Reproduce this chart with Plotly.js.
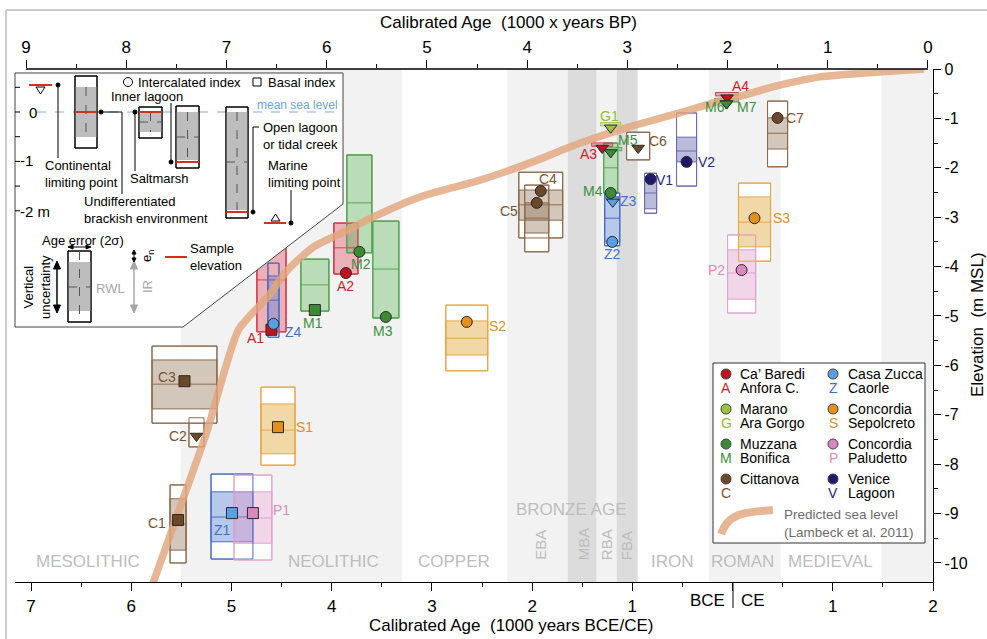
<!DOCTYPE html>
<html><head><meta charset="utf-8">
<script src="https://cdn.plot.ly/plotly-3.0.1.min.js"></script>
<style>html,body{margin:0;padding:0;background:#fff}</style>
</head><body><div id="chart" style="width:987px;height:639px"></div>
<script>
// ---------------- DATA ----------------
const sampleLabel = ['C1','C2','C3','S1','Z1','P1','A1','Z4','M1','A2','M2','M3','S2','C4','C5','M4','Z2','Z3','G1','A3','M5','C6','V1','V2','A4','M6','M7','C7','S3','P2'];
const siteCode    = ['C','C','C','S','Z','P','A','Z','M','A','M','M','S','C','C','M','Z','Z','G','A','M','C','V','V','A','M','M','C','S','P'];
const indexType   = ['basal','limiting','basal','basal','basal','basal','basal','intercalated','basal','intercalated','intercalated','intercalated','intercalated','intercalated','intercalated','intercalated','intercalated','limiting','limiting','limiting','limiting','limiting','intercalated','intercalated','limiting','limiting','limiting','intercalated','intercalated','intercalated'];
// age in 1000 years CE (negative = BCE)
const ageKaCE  = [-5.533,-5.349,-5.469,-4.536,-4.995,-4.786,-4.601,-4.581,-4.168,-3.858,-3.724,-3.460,-2.652,-1.914,-1.954,-1.216,-1.201,-1.196,-1.216,-1.301,-1.216,-0.942,-0.818,-0.459,-0.055,-0.060,-0.060,0.449,0.219,0.090];
const ageErr   = [0.080,0.075,0.324,0.170,0.209,0.189,0.145,0.055,0.140,0.120,0.125,0.130,0.209,0.219,0.120,0.070,0.075,0.060,0.100,0.105,0.110,0.115,0.060,0.100,0.115,0.120,0.120,0.100,0.160,0.140];
// elevations in m MSL
const boxTop    = [-8.42,-7.06,-5.61,-6.44,-8.20,-8.22,-3.22,-3.93,-3.85,-3.12,-1.74,-3.08,-4.78,-2.09,-2.35,-1.50,-2.51,null,null,null,null,-1.28,-2.11,-0.89,null,null,null,-0.65,-2.31,-3.36];
const boxBottom = [-10.00,-7.65,-7.17,-8.02,-9.92,-9.94,-5.32,-5.43,-4.90,-4.15,-3.72,-5.04,-6.11,-3.42,-3.70,-2.51,-3.58,null,null,null,null,-1.84,-2.92,-2.37,null,null,null,-1.98,-3.89,-4.94];
const fillTop   = [-8.70,null,-5.89,-6.78,-8.56,-8.56,-3.22,-4.19,-3.85,-3.12,-1.74,-3.08,-5.10,-2.45,-2.71,-1.50,-2.59,null,null,null,null,null,-2.19,-1.38,null,null,null,-0.99,-2.59,-3.66];
const fillBottom= [-9.74,null,-6.88,-7.79,-9.57,-9.60,-5.32,-5.16,-4.90,-4.15,-3.72,-5.04,-5.79,-3.06,-3.32,-2.51,-3.50,null,null,null,null,null,-2.83,-1.88,null,null,null,-1.62,-3.60,-4.66];
const rslMid    = [-9.21,null,-6.38,-7.31,-9.07,-9.09,-4.27,-4.68,-4.37,-3.62,-2.71,-4.05,-5.45,-2.75,-3.02,-2.00,-3.02,null,null,null,null,null,-2.51,-1.66,null,null,null,-1.30,-3.10,-4.13];
const sampleElev= [-9.13,-7.43,-6.32,-7.25,-8.99,-8.99,-5.28,-5.16,-4.88,-4.13,-3.70,-5.02,-5.12,-2.47,-2.71,-2.51,-3.50,-2.62,-1.12,-1.53,-1.62,-1.60,-2.23,-1.88,-0.51,-0.63,-0.63,-0.99,-3.02,-4.07];

// predicted sea level (Lambeck et al. 2011)
const slAge  = [-5.82,-5.76,-5.50,-5.24,-4.93,-4.64,-4.44,-4.18,-3.84,-3.59,-3.12,-2.52,-2.02,-1.52,-1.03,-0.53,-0.20,0.12,0.40,0.87,1.46,1.91];
const slElev = [-10.6,-10.28,-8.80,-7.31,-5.28,-4.62,-4.07,-3.60,-3.26,-3.00,-2.59,-2.25,-1.90,-1.50,-1.17,-0.89,-0.69,-0.53,-0.36,-0.16,-0.06,0.0];

// cultural periods
const bandStart = [-5.51,-2.25,-1.645,-1.356,-1.157,-0.239,1.486];
const bandEnd   = [-3.30,-1.645,-1.356,-1.157,-0.947,0.479,2.0];
const bandDark  = [false,false,true,false,true,false,false];
const periodLabel  = ['MESOLITHIC','NEOLITHIC','COPPER','EBA','MBA','RBA','FBA','IRON','ROMAN','MEDIEVAL'];
const periodCenter = [-6.43,-3.978,-2.78,-1.924,-1.486,-1.256,-1.057,-0.598,0.10,0.977];
const periodVertical = [false,false,false,true,true,true,true,false,false,false];

// axis ticks
const bceTickVals = [-7,-6,-5,-4,-3,-2,-1,0,1,2];
const bceTickText = ['7','6','5','4','3','2','1',' ','1','2'];
const bpTickVals  = [0,1,2,3,4,5,6,7,8,9];
const elevTickVals= [0,-1,-2,-3,-4,-5,-6,-7,-8,-9,-10];
const elevTickText= ['0','-1','-2','-3','-4','-5','-6','-7','-8','-9','-10'];

// legend
const legendCol1Site = ['A','G','M','C'], legendCol1Name = ['Ca’ Baredi','Marano','Muzzana','Cittanova'], legendCol1Sub = ['Anfora C.','Ara Gorgo','Bonifica',''];
const legendCol2Site = ['Z','S','P','V'], legendCol2Name = ['Casa Zucca','Concordia','Concordia','Venice'],    legendCol2Sub = ['Caorle','Sepolcreto','Paludetto','Lagoon'];

// ---------------- STYLE ----------------
const FONT = 'Liberation Sans, Arial, Helvetica, sans-serif';
const siteStyle = {
 A:{mk:'#c1121f', ln:'#d4434f', fill:'rgba(210,70,85,0.42)',  tx:'#d0202c'},
 G:{mk:'#9cc43a', ln:'#a2c94a', fill:'rgba(185,215,110,0.45)',tx:'#8fbe2e'},
 M:{mk:'#3b8b36', ln:'#5aa657', fill:'rgba(105,178,100,0.45)',tx:'#3a913a'},
 C:{mk:'#6a4828', ln:'#8c6a4b', fill:'rgba(145,115,85,0.40)', tx:'#7a5230'},
 Z:{mk:'#5b9fe3', ln:'#4a6cc4', fill:'rgba(95,135,210,0.45)', tx:'#3f6fd1'},
 S:{mk:'#e3901f', ln:'#e8a548', fill:'rgba(228,180,80,0.50)', tx:'#e38e22'},
 P:{mk:'#da88c0', ln:'#e2a2cf', fill:'rgba(222,155,202,0.42)',tx:'#d98cbc'},
 V:{mk:'#1d1a6b', ln:'#6c6ab0', fill:'rgba(105,105,175,0.45)',tx:'#272680'}
};
const SL_COLOR = 'rgba(226,166,124,0.82)';
// label offsets in pixels (dx right, dy down) relative to marker
const labelOffset = {C1:[-21,3],C2:[-19,0],C3:[-17,-4],S1:[27,0],Z1:[-9,17],P1:[29,-3],A1:[-16,8],Z4:[20,8],M1:[-2,13],A2:[0,13],M2:[2,12],M3:[-3,14],S2:[31,4],C4:[7,-12],C5:[-28,8],M4:[-18,-2],Z2:[0,12],Z3:[16,-1],G1:[-1,-12],A3:[-14,6],M5:[17,-12],C6:[20,-7],V1:[14,1],V2:[20,0],A4:[13,-12],M6:[-12,3],M7:[20,3],C7:[17,0],S3:[27,0],P2:[-25,0]};

const W=987,H=639,ML=15,MR=54,MT=69,MB=57,PW=W-ML-MR,PH=H-MT-MB;
const px = v => (v-ML)/PW;
const py = v => (H-MB-v)/PH;

const shapes = [], annotations = [];

// bands
bandStart.forEach((s,i)=>shapes.push({type:'rect',xref:'x',yref:'paper',x0:s,x1:bandEnd[i],y0:0,y1:1,fillcolor:bandDark[i]?'#dcdcdc':'#f2f2f2',line:{width:0},layer:'below'}));

// sample markers y (triangles hang below bars)
const markerY = sampleElev.map((e,i)=> (indexType[i]==='limiting' && boxTop[i]===null) ? e-0.07 : e);

// outer boxes
sampleLabel.forEach((l,i)=>{ if(boxTop[i]!==null){ const st=siteStyle[siteCode[i]];
  shapes.push({type:'rect',xref:'x',yref:'y',x0:ageKaCE[i]-ageErr[i],x1:ageKaCE[i]+ageErr[i],y0:boxBottom[i],y1:boxTop[i],fillcolor:'#ffffff',line:{color:st.ln,width:1},layer:'below'});}});
// fills
sampleLabel.forEach((l,i)=>{ if(fillTop[i]!==null){ const st=siteStyle[siteCode[i]];
  shapes.push({type:'rect',xref:'x',yref:'y',x0:ageKaCE[i]-ageErr[i],x1:ageKaCE[i]+ageErr[i],y0:fillBottom[i],y1:fillTop[i],fillcolor:st.fill,line:{color:st.ln,width:1},layer:'below'});}});
// outlines again + mid lines + limiting bars
sampleLabel.forEach((l,i)=>{ const st=siteStyle[siteCode[i]];
  if(boxTop[i]!==null) shapes.push({type:'rect',xref:'x',yref:'y',x0:ageKaCE[i]-ageErr[i],x1:ageKaCE[i]+ageErr[i],y0:boxBottom[i],y1:boxTop[i],fillcolor:'rgba(0,0,0,0)',line:{color:st.ln,width:1},layer:'below'});
  if(rslMid[i]!==null) shapes.push({type:'line',xref:'x',yref:'y',x0:ageKaCE[i]-ageErr[i],x1:ageKaCE[i]+ageErr[i],y0:rslMid[i],y1:rslMid[i],line:{color:st.ln,width:1},layer:'below'});
  if(indexType[i]==='limiting' && boxTop[i]===null) shapes.push({type:'rect',xref:'x',yref:'y',x0:ageKaCE[i]-ageErr[i],x1:ageKaCE[i]+ageErr[i],y0:sampleElev[i]-0.035,y1:sampleElev[i]+0.035,fillcolor:st.fill,line:{color:st.ln,width:1},layer:'below'});
});

// sample labels
sampleLabel.forEach((l,i)=>{ const o=labelOffset[l]; annotations.push({xref:'x',yref:'y',x:ageKaCE[i],y:markerY[i],text:l,showarrow:false,xshift:o[0],yshift:-o[1],font:{family:FONT,size:14,color:siteStyle[siteCode[i]].tx}}); });

// period labels
periodLabel.forEach((p,i)=>annotations.push({xref:'x',yref:'paper',x:periodCenter[i],y:periodVertical[i]?py(562):py(573),text:p,showarrow:false,textangle:periodVertical[i]?-90:0,font:{family:FONT,size:periodVertical[i]?15:17,color:'#bdbdbd'}}));
annotations.push({xref:'x',yref:'paper',x:-1.605,y:py(521),text:'BRONZE AGE',showarrow:false,font:{family:FONT,size:17,color:'#bdbdbd'}});

// ---------- helpers for schematic (pixel coords) ----------
function R(x0,y0,x1,y1,fill,lc,lw,dash){shapes.push({type:'rect',xref:'paper',yref:'paper',x0:px(x0),x1:px(x1),y0:py(y1),y1:py(y0),fillcolor:fill||'rgba(0,0,0,0)',line:{color:lc||'rgba(0,0,0,0)',width:lw===undefined?1:lw,dash:dash||'solid'},layer:'above'});}
function L(x0,y0,x1,y1,lc,lw,dash){shapes.push({type:'line',xref:'paper',yref:'paper',x0:px(x0),y0:py(y0),x1:px(x1),y1:py(y1),line:{color:lc,width:lw,dash:dash||'solid'},layer:'above'});}
function P(pts,fill,lc,lw){shapes.push({type:'path',xref:'paper',yref:'paper',path:'M'+pts.map(p=>px(p[0])+','+py(p[1])).join(' L')+' Z',fillcolor:fill,line:{color:lc||fill,width:lw===undefined?1:lw},layer:'above'});}
function C(cx,cy,r,fill,lc,lw){shapes.push({type:'circle',xref:'paper',yref:'paper',x0:px(cx-r),x1:px(cx+r),y0:py(cy+r),y1:py(cy-r),fillcolor:fill,line:{color:lc||fill,width:lw===undefined?1:lw},layer:'above'});}
function T(x,y,text,o){o=o||{};annotations.push({xref:'paper',yref:'paper',x:px(x),y:py(y),text:text,showarrow:false,xanchor:o.xa||'left',yanchor:'middle',align:o.align||'left',textangle:o.angle||0,font:{family:FONT,size:o.size||13,color:o.color||'#000'}});}

// figure frame
L(6,10,987,10,'#9a9a9a',1); L(6,10,6,639,'#9a9a9a',1);
// top axis line (BP 9 -> 0)
shapes.push({type:'line',xref:'x2',yref:'paper',x0:9,x1:0,y0:1,y1:1,line:{color:'#000',width:1.3},layer:'above'});
// BCE/CE separator
L(733,582,733,608,'#000',1);
T(727,600,'BCE',{xa:'right',size:17}); T(739,600,'CE',{xa:'left',size:17});

// ---------- inset schematic ----------
shapes.push({type:'path',xref:'paper',yref:'paper',path:'M'+[[15,73],[343,73],[343,204],[183,327],[15,327]].map(p=>px(p[0])+','+py(p[1])).join(' L')+' Z',fillcolor:'#ffffff',line:{color:'#444',width:1},layer:'above'});
const GRAY='#bdbdbd', RED='#d0321e', DK='#555';
[87.3,112,136.7,161.4,186.1,210.8].forEach(y=>L(15,y,20,y,'#000',1));
T(27,112,'0',{size:15}); T(18,160,'-1',{size:15}); T(18,211,'-2 m',{size:15});
L(37,112,342,112,'#7fb0e0',1.2,'dash');
T(340,105,'mean sea level',{xa:'right',size:12,color:'#6aa6df'});
// continental limiting point
L(29,85,52,85,RED,2); P([[36,87],[45,87],[40.5,94]],'#ffffff','#000',1);
L(58,85,58,158,'#000',1); C(58,85,2,'#000');
T(43,174,'Continental<br>limiting point');
// box 1
R(75,76,97,148,'#ffffff','#000',1); R(75,87,97,137,GRAY,GRAY,0); R(75,76,97,148,null,'#000',1);
L(86,87,86,137,DK,1,'dash'); L(75,112,97,112,RED,2);
C(101,112,2,'#000'); L(101,112,122,112,'#000',1); L(122,112,122,194,'#000',1);
T(82,210,'Undifferentiated<br>brackish environment');
// saltmarsh
R(139,107,162,138,'#ffffff','#000',1); R(139,112,162,132,GRAY,GRAY,0); R(139,107,162,138,null,'#000',1);
L(150.5,112,150.5,132,DK,1,'dash'); L(139,122,162,122,DK,1,'dash'); L(139,112,162,112,RED,2);
C(135,112,2,'#000'); L(135,112,135,171,'#000',1);
T(128,178,'Saltmarsh');
// inner lagoon
R(176,106,199,168,'#ffffff','#000',1); R(176,112,199,160,GRAY,GRAY,0); R(176,106,199,168,null,'#000',1);
L(187.5,112,187.5,160,DK,1,'dash'); L(176,137,199,137,DK,1,'dash'); L(176,162,199,162,RED,2);
C(171,162,2,'#000'); L(171,162,171,103,'#000',1);
T(147,96,'Inner lagoon',{xa:'center'});
// open lagoon
R(226,107,248,218,'#ffffff','#000',1); R(226,112,248,210,GRAY,GRAY,0); R(226,107,248,218,null,'#000',1);
L(237,112,237,210,DK,1,'dash'); L(226,162,248,162,DK,1,'dash'); L(226,212,248,212,RED,2);
C(253,212,2,'#000'); L(253,212,253,127,'#000',1); L(253,127,259,127,'#000',1);
T(261,136,'Open lagoon<br>or tidal creek');
// marine limiting point
L(264,223,286,223,RED,2); P([[271,221],[280,221],[275.5,214]],'#ffffff','#000',1);
C(291,223,2,'#000'); L(291,223,291,190,'#000',1);
T(266,174,'Marine<br>limiting point');
// symbol keys
C(128,82,4.5,'#ffffff','#000',1); T(136,82,'Intercalated index');
R(253,78,261,86,'#ffffff','#000',1); T(266,82,'Basal index');
// uncertainty key
T(40,240,'Age error (2σ)');
L(70,247,89,247,'#000',1); P([[68,247],[73,245],[73,249]],'#000'); P([[91,247],[86,245],[86,249]],'#000');
R(68,251,91,322,'#ffffff','#000',1); R(68,262,91,311,GRAY,GRAY,0); R(68,251,91,322,null,'#000',1);
L(79.5,251,79.5,322,DK,1,'dash'); L(68,287,91,287,DK,1,'dash');
L(57,266,57,308,'#000',1.5); P([[57,261],[53.5,269],[60.5,269]],'#000'); P([[57,313],[53.5,305],[60.5,305]],'#000');
T(37,287,'Vertical<br>uncertainty',{xa:'center',angle:-90,align:'center'});
T(110,288,'RWL',{xa:'center',color:'#a6a6a6'});
L(134,266,134,308,'#a6a6a6',1.5); P([[134,261],[130.5,269],[137.5,269]],'#a6a6a6'); P([[134,313],[130.5,305],[137.5,305]],'#a6a6a6');
T(147,287,'IR',{xa:'center',angle:-90,color:'#a6a6a6'});
L(134,252,134,260,'#000',1); P([[134,250],[132,254],[136,254]],'#000'); P([[134,262],[132,258],[136,258]],'#000');
T(147,256,'e<sub>n</sub>',{xa:'center',angle:-90});
L(165,257,187,257,RED,2);
T(188,257,'Sample<br>elevation');

// ---------- legend ----------
R(713,363,925,543,'#ffffff','#333',1);
const rowY=[374,409,444,479];
[[legendCol1Site,legendCol1Name,legendCol1Sub,726,738],[legendCol2Site,legendCol2Name,legendCol2Sub,833,846]].forEach(col=>{
  col[0].forEach((s,i)=>{ const st=siteStyle[s];
    C(col[3],rowY[i],5,st.mk,'#444',1);
    T(col[3],rowY[i]+14,s,{xa:'center',size:14,color:st.tx});
    T(col[4],rowY[i],col[1][i],{size:14});
    if(col[2][i]) T(col[4],rowY[i]+14,col[2][i],{size:14});
  });
});
shapes.push({type:'path',xref:'paper',yref:'paper',path:`M${px(721)},${py(534)} C${px(728)},${py(514)} ${px(742)},${py(512)} ${px(773)},${py(510)}`,line:{color:SL_COLOR,width:8},fillcolor:'rgba(0,0,0,0)',layer:'above'});
T(782,523,'Predicted sea level<br>(Lambeck et al. 2011)',{size:13.5,color:'#6b6b6b'});

// titles
T(508,22,'Calibrated Age\u00a0\u00a0(1000 x years BP)',{xa:'center',size:17});
T(511,625,'Calibrated Age\u00a0\u00a0(1000 years BCE/CE)',{xa:'center',size:17});
T(977,325,'Elevation\u00a0\u00a0(m MSL)',{xa:'center',angle:-90,size:17});

// ---------------- TRACES ----------------
const symbolFor = t => t==='basal'?'square':(t==='intercalated'?'circle':'triangle-down');
const traces = [
 {x:slAge,y:slElev,mode:'lines',line:{color:SL_COLOR,width:7.5,shape:'spline',smoothing:0.6},hoverinfo:'skip',showlegend:false},
 {x:ageKaCE,y:markerY,mode:'markers',text:sampleLabel,hoverinfo:'text',showlegend:false,
  marker:{symbol:indexType.map(symbolFor),size:11,color:siteCode.map(c=>siteStyle[c].mk),line:{color:'#2a2a2a',width:1}}},
 {x:[5],y:[-5],xaxis:'x2',yaxis:'y',mode:'markers',marker:{opacity:0},hoverinfo:'skip',showlegend:false}
];
const half = a => a.slice(0,-1).map(v=>v+0.5);
const layout = {
 width:W,height:H,margin:{l:ML,r:MR,t:MT,b:MB},paper_bgcolor:'#ffffff',plot_bgcolor:'rgba(0,0,0,0)',showlegend:false,
 font:{family:FONT,color:'#000'},
 xaxis:{range:[-7.16,2.0],tickmode:'array',tickvals:bceTickVals,ticktext:bceTickText,ticks:'outside',ticklen:8,tickcolor:'#000',tickwidth:1,
   showline:true,linecolor:'#000',linewidth:1.3,showgrid:false,zeroline:false,tickfont:{size:17},
   minor:{tickmode:'array',tickvals:half(bceTickVals),ticks:'outside',ticklen:4,tickcolor:'#000',showgrid:false}},
 xaxis2:{overlaying:'x',side:'top',anchor:'y',range:[9.11,-0.05],tickmode:'array',tickvals:bpTickVals,ticks:'outside',ticklen:8,tickcolor:'#000',
   showline:false,showgrid:false,zeroline:false,tickfont:{size:17},
   minor:{tickmode:'array',tickvals:half(bpTickVals),ticks:'outside',ticklen:4,tickcolor:'#000',showgrid:false}},
 yaxis:{range:[-10.385,0],side:'right',anchor:'x',tickmode:'array',tickvals:elevTickVals,ticktext:elevTickText,ticks:'outside',ticklen:7,tickcolor:'#000',
   showline:true,linecolor:'#000',linewidth:1.3,showgrid:false,zeroline:false,tickfont:{size:16},
   minor:{tickmode:'array',tickvals:elevTickVals.slice(1).map(v=>v+0.5),ticks:'outside',ticklen:4,tickcolor:'#000',showgrid:false}},
 shapes:shapes,annotations:annotations
};
Plotly.newPlot('chart',traces,layout,{staticPlot:true,displayModeBar:false});
</script></body></html>
